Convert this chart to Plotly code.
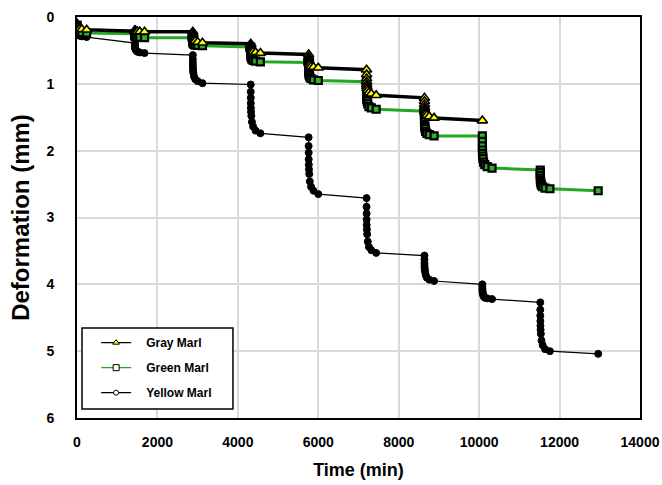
import plotly.graph_objects as go

# Standard reading schedule within each load stage (minutes after loading)
reading_offsets = [0, 0.25, 1, 2, 4, 8, 15, 30, 60, 120, 240]
load_times = [0, 1440, 2880, 4320, 5760, 7200, 8640, 10080, 11520]

# Deformation readings (mm) per load stage
gray_def = [
    [0.10, 0.12, 0.13, 0.145, 0.155, 0.165, 0.17, 0.175, 0.18, 0.185, 0.19],
    [0.20, 0.203, 0.205, 0.207, 0.209, 0.211, 0.213, 0.215, 0.217, 0.219, 0.22],
    [0.22, 0.25, 0.27, 0.29, 0.31, 0.32, 0.335, 0.35, 0.36, 0.375, 0.385],
    [0.40, 0.42, 0.44, 0.455, 0.47, 0.48, 0.495, 0.51, 0.52, 0.53, 0.54],
    [0.56, 0.60, 0.63, 0.65, 0.67, 0.69, 0.70, 0.72, 0.74, 0.75, 0.76],
    [0.79, 0.86, 0.92, 0.97, 1.01, 1.04, 1.07, 1.10, 1.13, 1.15, 1.17],
    [1.21, 1.26, 1.31, 1.35, 1.38, 1.41, 1.43, 1.45, 1.47, 1.49, 1.51],
]
gray_end = (10080, 1.55)

green_def = [
    [0.12, 0.14, 0.16, 0.18, 0.19, 0.20, 0.21, 0.22, 0.23, 0.235, 0.24],
    [0.25, 0.26, 0.27, 0.275, 0.28, 0.285, 0.29, 0.295, 0.30, 0.305, 0.31],
    [0.31, 0.33, 0.35, 0.365, 0.38, 0.39, 0.40, 0.41, 0.42, 0.425, 0.43],
    [0.45, 0.49, 0.52, 0.55, 0.57, 0.59, 0.61, 0.63, 0.65, 0.66, 0.67],
    [0.68, 0.73, 0.77, 0.80, 0.83, 0.85, 0.87, 0.90, 0.92, 0.94, 0.95],
    [0.97, 1.04, 1.10, 1.15, 1.19, 1.23, 1.26, 1.30, 1.34, 1.36, 1.38],
    [1.41, 1.47, 1.53, 1.57, 1.61, 1.64, 1.67, 1.71, 1.74, 1.76, 1.78],
    [1.78, 1.86, 1.93, 1.99, 2.04, 2.08, 2.12, 2.17, 2.21, 2.24, 2.26],
    [2.29, 2.33, 2.37, 2.41, 2.44, 2.46, 2.49, 2.52, 2.54, 2.56, 2.57],
]
green_end = (12960, 2.60)

yellow_def = [
    [0.15, 0.18, 0.20, 0.22, 0.23, 0.245, 0.255, 0.27, 0.28, 0.29, 0.30],
    [0.39, 0.41, 0.43, 0.45, 0.46, 0.47, 0.48, 0.50, 0.52, 0.53, 0.54],
    [0.57, 0.63, 0.68, 0.73, 0.77, 0.81, 0.84, 0.89, 0.93, 0.96, 0.99],
    [1.01, 1.12, 1.21, 1.29, 1.36, 1.42, 1.48, 1.57, 1.64, 1.70, 1.74],
    [1.80, 1.93, 2.03, 2.13, 2.21, 2.28, 2.35, 2.46, 2.54, 2.60, 2.65],
    [2.71, 2.84, 2.94, 3.03, 3.11, 3.18, 3.25, 3.36, 3.44, 3.49, 3.53],
    [3.57, 3.63, 3.68, 3.72, 3.75, 3.78, 3.81, 3.86, 3.90, 3.93, 3.95],
    [4.00, 4.03, 4.06, 4.09, 4.11, 4.13, 4.15, 4.18, 4.20, 4.21, 4.22],
    [4.27, 4.38, 4.47, 4.55, 4.62, 4.68, 4.74, 4.84, 4.91, 4.97, 5.00],
]
yellow_end = (12960, 5.04)

x_ticks = [0, 2000, 4000, 6000, 8000, 10000, 12000, 14000]
y_ticks = [0, 1, 2, 3, 4, 5, 6]


def build(stages, end):
    t, d = [], []
    for start, vals in zip(load_times, stages):
        for off, v in zip(reading_offsets, vals):
            t.append(start + off)
            d.append(v)
    t.append(end[0])
    d.append(end[1])
    return t, d


gt, gd = build(gray_def, gray_end)
grt, grd = build(green_def, green_end)
yt, yd = build(yellow_def, yellow_end)

FONT = "Liberation Sans, Arial, sans-serif"

fig = go.Figure()
# data traces (drawn: yellow beneath, gray on top)
fig.add_trace(go.Scatter(
    x=yt, y=yd, name="Yellow Marl", mode="lines+markers", showlegend=False,
    line=dict(color="black", width=1.2),
    marker=dict(symbol="circle", size=7, color="black", line=dict(color="black", width=1)),
))
fig.add_trace(go.Scatter(
    x=grt, y=grd, name="Green Marl", mode="lines+markers", showlegend=False,
    line=dict(color="#22a822", width=3),
    marker=dict(symbol="square", size=7, color="#2fb02f", line=dict(color="black", width=2.2)),
))
fig.add_trace(go.Scatter(
    x=gt, y=gd, name="Gray Marl", mode="lines+markers", showlegend=False,
    line=dict(color="black", width=3.5),
    marker=dict(symbol="triangle-up", size=9, color="#ffff00", line=dict(color="black", width=1.6)),
))
# legend entries (thin sample lines, small symbols as in the original key)
legend_items = [
    ("Gray Marl", "black", "triangle-up", "#ffff00", 6),
    ("Green Marl", "#22a822", "square", "white", 6),
    ("Yellow Marl", "black", "circle", "white", 5),
]
LEAD = "\u00a0" * 3
for i, (nm, lc, sym, fc, sz) in enumerate(legend_items):
    fig.add_trace(go.Scatter(
        x=[None], y=[None], name=LEAD + "<b>" + nm + "</b>", mode="lines+markers",
        line=dict(color=lc, width=1.3),
        marker=dict(symbol=sym, size=sz, color=fc, line=dict(color="black", width=1)),
        legendgroup=str(i), legendrank=i + 1,
    ))

# legend frame (white box behind the key)
fig.add_shape(
    type="rect", xref="paper", yref="paper",
    x0=0.0089, x1=0.277, y0=0.0224, y1=0.2244,
    line=dict(color="black", width=1.5), fillcolor="white", layer="above",
)

fig.update_layout(
    width=662, height=485,
    margin=dict(l=77, r=22, t=17, b=67),
    paper_bgcolor="white", plot_bgcolor="white",
    font=dict(family=FONT, color="black"),
    legend=dict(
        x=0.034, y=0.224, xanchor="left", yanchor="top",
        borderwidth=0, bgcolor="rgba(0,0,0,0)",
        font=dict(size=12, family=FONT, color="black"),
        traceorder="grouped", tracegroupgap=6,
    ),
    showlegend=True,
)
fig.update_xaxes(
    range=[0, 14000], tickvals=x_ticks, ticktext=[f"<b>{v}</b>" for v in x_ticks],
    showgrid=True, gridcolor="#d9d9d9", gridwidth=1.5,
    showline=True, linecolor="black", linewidth=2, mirror=True,
    zeroline=False, ticks="", ticklabelstandoff=10, automargin=False,
    tickfont=dict(size=14, family=FONT),
    title=dict(text="<b>Time (min)</b>", font=dict(size=18, family=FONT), standoff=15),
)
fig.update_yaxes(
    range=[6, 0], tickvals=y_ticks, ticktext=[f"<b>{v}</b>" for v in y_ticks],
    showgrid=True, gridcolor="#d9d9d9", gridwidth=1.5,
    showline=True, linecolor="black", linewidth=2, mirror=True,
    zeroline=False, ticks="", ticklabelstandoff=18, automargin=False,
    tickfont=dict(size=14, family=FONT),
    title=dict(text="<b>Deformation (mm)</b>", font=dict(size=24, family=FONT), standoff=10),
)

fig.write_html(
    "out.html",
    config={"displayModeBar": False},
    post_script="document.body.style.margin='0';document.body.style.overflow='hidden';",
)
